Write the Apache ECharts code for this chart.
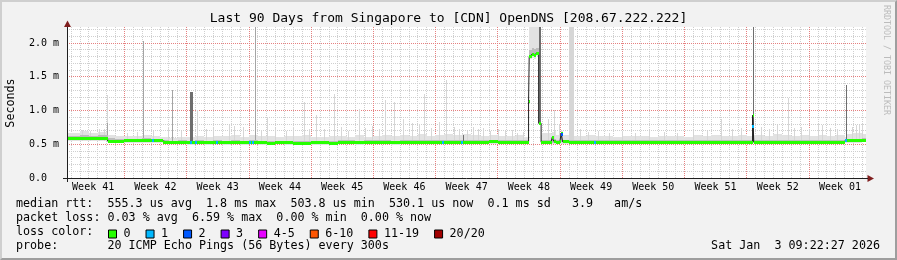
<!DOCTYPE html>
<html><head><meta charset="utf-8">
<script src="https://cdn.jsdelivr.net/npm/echarts@6/dist/echarts.min.js"></script>
<style>
html,body{margin:0;padding:0;background:#f2f2f2;}
#c{position:absolute;left:0;top:0;width:897px;height:260px;}
#f{position:absolute;left:0;top:0;width:897px;height:260px;box-sizing:border-box;border-top:2px solid #cfcfcf;border-left:2px solid #cfcfcf;border-bottom:2px solid #9e9e9e;border-right:2px solid #9e9e9e;pointer-events:none;}
</style></head><body>
<div id="c"></div><div id="f"></div>
<script>
// ---------- data (x in days since Monday of Week 41, y in ms) ----------
const weekLabels = ['Week 41','Week 42','Week 43','Week 44','Week 45','Week 46','Week 47','Week 48','Week 49','Week 50','Week 51','Week 52','Week 01'];
const yLabels = ['0.0  ','0.5 m','1.0 m','1.5 m','2.0 m'];

const medDays = [0.56,1,2,3,4,5.13,6,7,8,9,10,11,11.32,
 12,13,14,15,16,17,18,19,20,21,22,23,24,25,26,27,28,29,30,31,32,33,34,35,36,37,38,39,40,41,42,43,44,45,46,47,48,49,50,51,52,
 52.47,52.54,52.8,53.1,53.3,53.6,53.88,54,55,55.12,55.3,55.5,56,56.12,56.3,
 57,58,59,60,61,62,63,64,65,66,67,68,69,70,71,72,73,74,75,76,77,77.66,77.73,77.8,
 78,79,80,81,82,83,84,85,86,87,88,88.1,88.3,89,90,90.42];
const medVals = [0.582,0.580,0.584,0.579,0.581,0.546,0.540,0.552,0.553,0.550,0.554,0.551,0.524,
 0.522,0.525,0.520,0.523,0.521,0.524,0.520,0.522,0.519,0.523,0.521,0.518,0.522,0.520,0.517,0.514,0.519,0.521,0.516,0.522,0.524,0.521,0.523,0.525,0.522,0.519,0.524,0.526,0.523,0.525,0.527,0.524,0.529,0.531,0.533,0.532,0.534,0.531,0.533,0.532,0.530,
 1.13,1.80,1.83,1.82,1.85,0.81,0.530,0.531,0.533,0.600,0.545,0.532,0.534,0.660,0.536,
 0.531,0.532,0.530,0.533,0.531,0.532,0.530,0.529,0.531,0.530,0.532,0.531,0.530,0.529,0.531,0.532,0.530,0.531,0.529,0.530,0.531,0.930,0.760,0.530,
 0.531,0.530,0.529,0.531,0.528,0.530,0.529,0.531,0.528,0.527,0.529,0.560,0.551,0.549,0.552,0.550];
const smokeLo = [0.548,0.547,0.550,0.546,0.549,0.515,0.512,0.520,0.522,0.519,0.521,0.520,0.497,
 0.497,0.500,0.495,0.498,0.496,0.499,0.495,0.497,0.494,0.498,0.496,0.493,0.497,0.495,0.492,0.490,0.494,0.496,0.491,0.497,0.499,0.496,0.498,0.500,0.497,0.494,0.499,0.501,0.498,0.500,0.502,0.499,0.504,0.506,0.508,0.507,0.509,0.506,0.508,0.507,0.505,
 1.10,1.76,1.78,1.77,1.80,0.79,0.505,0.506,0.508,0.505,0.505,0.507,0.509,0.510,0.509,
 0.506,0.507,0.505,0.508,0.506,0.507,0.505,0.504,0.506,0.505,0.507,0.506,0.505,0.504,0.506,0.507,0.505,0.506,0.504,0.505,0.506,0.520,0.520,0.505,
 0.506,0.505,0.504,0.506,0.503,0.505,0.504,0.506,0.503,0.502,0.504,0.520,0.525,0.524,0.526,0.525];
const smokeHi = [0.672,0.665,0.690,0.668,0.680,0.640,0.615,0.625,0.618,0.630,0.622,0.612,0.600,
 0.598,0.612,0.605,0.620,0.603,0.615,0.625,0.632,0.610,0.640,0.615,0.628,0.608,0.618,0.622,0.635,0.612,0.604,0.626,0.618,0.607,0.630,0.612,0.620,0.642,0.625,0.634,0.628,0.645,0.619,0.637,0.651,0.630,0.648,0.640,0.622,0.633,0.628,0.619,0.631,0.612,
 2.237,2.237,2.237,2.237,2.237,2.237,0.640,0.660,0.655,0.680,0.700,0.640,0.645,0.690,0.640,
 0.628,0.615,0.632,0.620,0.626,0.611,0.624,0.617,0.628,0.613,0.622,0.618,0.625,0.614,0.630,0.621,0.635,0.627,0.619,0.632,0.626,0.950,0.800,0.640,
 0.640,0.628,0.645,0.633,0.622,0.638,0.626,0.641,0.624,0.630,0.635,0.600,0.650,0.660,0.648,0.640];
const smokeMidLo = [0.563,0.562,0.565,0.561,0.563,0.530,0.527,0.535,0.536,0.533,0.537,0.534,0.509,
 0.508,0.511,0.507,0.510,0.508,0.511,0.507,0.509,0.506,0.510,0.508,0.505,0.509,0.507,0.504,0.502,0.506,0.508,0.503,0.509,0.511,0.508,0.510,0.512,0.509,0.506,0.511,0.513,0.510,0.512,0.514,0.511,0.516,0.518,0.520,0.519,0.521,0.518,0.520,0.519,0.517,
 1.12,1.78,1.80,1.79,1.82,0.80,0.517,0.518,0.520,0.520,0.520,0.519,0.521,0.530,0.521,
 0.518,0.519,0.517,0.520,0.518,0.519,0.517,0.516,0.518,0.517,0.519,0.518,0.517,0.516,0.518,0.519,0.517,0.518,0.516,0.517,0.518,0.530,0.530,0.517,
 0.518,0.517,0.516,0.518,0.515,0.517,0.516,0.518,0.515,0.514,0.516,0.530,0.537,0.536,0.538,0.537];
const smokeMidHi = [0.628,0.625,0.632,0.622,0.630,0.590,0.575,0.585,0.582,0.588,0.584,0.580,0.556,
 0.553,0.557,0.551,0.556,0.552,0.558,0.553,0.556,0.551,0.560,0.552,0.550,0.554,0.552,0.549,0.548,0.551,0.553,0.549,0.556,0.557,0.554,0.556,0.558,0.557,0.552,0.558,0.560,0.557,0.558,0.561,0.559,0.563,0.570,0.568,0.566,0.569,0.566,0.567,0.566,0.564,
 1.15,1.90,1.92,1.91,1.93,0.83,0.566,0.568,0.570,0.610,0.580,0.566,0.569,0.670,0.567,
 0.566,0.566,0.564,0.567,0.565,0.566,0.564,0.563,0.565,0.564,0.566,0.565,0.564,0.563,0.565,0.566,0.564,0.565,0.563,0.565,0.566,0.940,0.780,0.566,
 0.566,0.564,0.563,0.565,0.562,0.564,0.563,0.566,0.562,0.561,0.563,0.580,0.585,0.583,0.586,0.584];

const loss1Days = [10.2,14.5,15.1,17.4,21.1,21.5,42.9,45.0,59.9,77.76,88.15];
const loss1Vals = [0.554,0.520,0.523,0.524,0.523,0.523,0.527,0.531,0.530,0.760,0.560];
const loss2Days = [56.2];
const loss2Vals = [0.650];

const lightSpikeDays = [2.2,3.1,4.1,4.7,5.05,7.3,8.4,10.2,11.9,13.4,15.14,16.2,17.0,18.8,19.3,20.3,22.4,23.1,24.0,25.2,26.0,27.24,27.8,28.6,29.5,30.61,31.4,32.2,33.36,34.1,34.9,35.6,36.35,37.36,38.3,39.4,40.2,40.73,41.5,42.4,43.17,44.1,44.6,45.5,46.2,46.8,47.3,48.1,49.0,49.8,50.6,51.2,51.8,54.64,55.3,55.9,57.05,57.16,57.27,57.38,57.49,58.2,59.1,60.3,61.5,63.0,64.4,66.0,67.7,69.2,71.0,72.5,74.1,75.3,76.4,78.6,79.5,80.4,81.6,82.3,83.1,84.0,85.0,85.5,86.4,87.2,88.8,89.28,89.6,90.0];
const lightSpikeTops = [0.71,0.70,0.72,0.73,1.23,0.66,0.68,0.70,0.76,0.70,1.00,0.72,0.74,0.79,0.77,0.76,0.71,0.91,0.74,0.70,0.76,1.13,0.73,0.93,0.72,1.24,0.76,0.70,1.02,0.74,0.77,0.72,1.16,1.12,0.88,0.82,0.80,1.24,0.74,0.83,1.45,0.75,0.72,0.70,0.75,0.72,0.74,0.70,0.72,0.69,0.71,0.66,0.68,0.88,1.00,0.78,2.237,2.237,2.237,2.237,2.237,0.72,0.68,0.70,0.66,0.69,0.67,0.70,0.68,0.66,0.69,0.70,0.88,0.72,0.74,0.75,0.72,0.78,1.18,0.74,0.76,0.72,0.80,0.78,0.74,0.73,0.76,0.79,0.78,0.80];
const midSpikeDays = [5.05,9.07,12.36,21.73];
const midSpikeTops = [0.82,2.03,1.31,2.237];
const darkSpikeDays = [14.42,14.53,14.64,45.05,53.66,53.77,77.71,88.15];
const darkSpikeLows = [0.53,0.53,0.53,0.53,0.81,0.81,0.53,0.53];
const darkSpikeTops = [1.28,1.28,1.28,0.64,2.237,2.237,2.237,1.38];

// ---------- layout ----------
const MONO = 'DejaVu Sans Mono';
const X_MIN = 0.557, X_MAX = 90.42, Y_MAX = 2.237;
const PL = 67, PT = 27, PW = 799, PH = 151;
const PX_DAY = PW / (X_MAX - X_MIN);
const DAY0 = PL - X_MIN * PX_DAY;
const SPIKE_BASE = 0.55;
const ZL = 1; // layer for everything drawn above the minor grid

function pairs(a, b){ return a.map((d,i)=>[d, b[i]]); }
function bands(lo, hi){ const r=[]; for(let i=0;i<medDays.length-1;i++) r.push([medDays[i], medDays[i+1], lo[i], hi[i]]); return r; }
function segs(){ const r=[]; for(let i=0;i<medDays.length-1;i++) r.push([medDays[i], medDays[i+1], medVals[i]]); return r; }

function bandItem(params, api){
  const a = api.coord([api.value(0), api.value(3)]);
  const b = api.coord([api.value(1), api.value(2)]);
  const x0 = Math.round(a[0]), x1 = Math.round(b[0]);
  const y0 = Math.round(a[1]), y1 = Math.round(b[1]);
  return {type:'rect', shape:{x:x0, y:y0, width:Math.max(0,x1-x0), height:Math.max(1,y1-y0)}, style:{fill: api.visual('color')}};
}
function spikeItem(params, api){
  const lo = api.value(1), hi = api.value(2);
  const a = api.coord([api.value(0), hi]);
  const b = api.coord([api.value(0), lo]);
  const x = Math.round(a[0]);
  const y0 = Math.round(a[1]), y1 = Math.round(b[1]);
  return {type:'rect', shape:{x:x, y:y0, width:1, height:Math.max(1,y1-y0)}, style:{fill: api.visual('color')}};
}
function segItem(params, api){
  const a = api.coord([api.value(0), api.value(2)]);
  const b = api.coord([api.value(1), api.value(2)]);
  const x0 = Math.round(a[0]), x1 = Math.round(b[0]);
  return {type:'rect', shape:{x:x0, y:Math.round(a[1]-1.5), width:Math.max(1,x1-x0), height:3}, style:{fill: api.visual('color')}};
}
function markItem(params, api){
  const a = api.coord([api.value(0), api.value(1)]);
  return {type:'rect', shape:{x:Math.round(a[0])-1, y:Math.round(a[1]-1.5), width:2, height:3}, style:{fill: api.visual('color')}};
}

const lossNames = ['0','1','2','3','4-5','6-10','11-19','20/20'];
const lossColors = ['#26ff00','#00b8ff','#0059ff','#7e00ff','#e600ff','#ff5500','#ff0000','#a10000'];

const minorGrid = {show:true, lineStyle:{color:'#cfcfcf', width:1, type:[1,1]}, showMinLine:false, showMaxLine:false};
const majorGrid = {show:true, lineStyle:{color:'#e68080', width:1, type:[1,1]}, showMinLine:false, showMaxLine:false};

const chart = echarts.init(document.getElementById('c'), null, {renderer:'canvas'});
const series = [
  {type:'custom', name:'smokeLight', zlevel:ZL, xAxisIndex:0, yAxisIndex:0, clip:true, renderItem:bandItem, itemStyle:{color:'#e2e2e2'}, encode:{x:[0,1], y:[2,3]}, data:bands(smokeLo, smokeHi), z:2},
  {type:'custom', name:'spikeLight', zlevel:ZL, xAxisIndex:0, yAxisIndex:0, clip:true, renderItem:spikeItem, itemStyle:{color:'#d6d6d6'}, encode:{x:0, y:[1,2]}, data:lightSpikeDays.map((d,i)=>[d, SPIKE_BASE, lightSpikeTops[i]]), z:2},
  {type:'custom', name:'spikeMid', zlevel:ZL, xAxisIndex:0, yAxisIndex:0, clip:true, renderItem:spikeItem, itemStyle:{color:'#a4a4a4'}, encode:{x:0, y:[1,2]}, data:midSpikeDays.map((d,i)=>[d, SPIKE_BASE, midSpikeTops[i]]), z:2},
  {type:'custom', name:'smokeMid', zlevel:ZL, xAxisIndex:0, yAxisIndex:0, clip:true, renderItem:bandItem, itemStyle:{color:'#bcbcbc'}, encode:{x:[0,1], y:[2,3]}, data:bands(smokeMidLo, smokeMidHi), z:2},
  {type:'custom', name:'spikeDark', zlevel:ZL, xAxisIndex:0, yAxisIndex:0, clip:true, renderItem:spikeItem, itemStyle:{color:'#6e6e6e'}, encode:{x:0, y:[1,2]}, data:darkSpikeDays.map((d,i)=>[d, darkSpikeLows[i], darkSpikeTops[i]]), z:2},
  {type:'line', name:'median', zlevel:ZL, xAxisIndex:0, yAxisIndex:0, step:'end', showSymbol:false, symbol:'none', lineStyle:{color:'#202020', width:1}, data:pairs(medDays, medVals), z:3},
  {type:'custom', name:'0', zlevel:ZL, xAxisIndex:0, yAxisIndex:0, clip:true, renderItem:segItem, itemStyle:{color:lossColors[0]}, encode:{x:[0,1], y:2}, data:segs(), z:4},
  {type:'custom', name:'1', zlevel:ZL, xAxisIndex:0, yAxisIndex:0, clip:true, renderItem:markItem, itemStyle:{color:lossColors[1]}, encode:{x:0, y:1}, data:pairs(loss1Days, loss1Vals), z:5},
  {type:'custom', name:'2', zlevel:ZL, xAxisIndex:0, yAxisIndex:0, clip:true, renderItem:markItem, itemStyle:{color:lossColors[2]}, encode:{x:0, y:1}, data:pairs(loss2Days, loss2Vals), z:5}
];
for (let k=3;k<lossNames.length;k++){
  series.push({type:'custom', name:lossNames[k], zlevel:ZL, xAxisIndex:0, yAxisIndex:0, renderItem:markItem, itemStyle:{color:lossColors[k]}, encode:{x:0,y:1}, data:[], z:5});
}

const row1 = 'median rtt:  555.3 us avg  1.8 ms max  503.8 us min  530.1 us now  0.1 ms sd   3.9   am/s';
const row2 = 'packet loss: 0.03 % avg  6.59 % max  0.00 % min  0.00 % now';
const row4 = 'probe:       20 ICMP Echo Pings (56 Bytes) every 300s';
const stamp = 'Sat Jan  3 09:22:27 2026';
function txt(x, y, s, extra){ return Object.assign({type:'text', x:x, y:y, style:{text:s, fontFamily:MONO, fontSize:11.7, fill:'#000', verticalAlign:'middle', align:'left'}, z:100}, extra||{}); }

const option = {
  animation:false,
  backgroundColor:'transparent',
  title:{text:'Last 90 Days from Singapore to [CDN] OpenDNS [208.67.222.222]', left:'center', top:12, padding:0,
    textStyle:{fontFamily:MONO, fontSize:13, fontWeight:'normal', color:'#000'}},
  legend:{data:lossNames, icon:'rect', itemWidth:8, itemHeight:8, itemGap:15, left:108, top:228, padding:0, selectedMode:false,
    itemStyle:{borderColor:'#000', borderWidth:1},
    textStyle:{fontFamily:MONO, fontSize:11.7, color:'#000', padding:[0,0,0,2]}},
  grid:[
    {left:PL, top:PT, width:PW, height:PH, show:true, backgroundColor:'#ffffff', borderWidth:0, z:-1, containLabel:false, outerBoundsMode:'none'},
    {left:DAY0, top:PT, width:91*PX_DAY, height:PH, containLabel:false, outerBoundsMode:'none'},
    {left:DAY0-3.5*PX_DAY, top:PT, width:95*PX_DAY, height:PH, containLabel:false, outerBoundsMode:'none'}
  ],
  xAxis:[
    {type:'value', gridIndex:0, min:X_MIN, max:X_MAX, zlevel:ZL, z:8, axisLine:{show:true, onZero:false, lineStyle:{color:'#1f1f1f', width:1}}, axisTick:{show:false}, axisLabel:{show:false}, splitLine:{show:false}},
    {type:'value', gridIndex:1, min:0, max:91, interval:1, z:0, axisLine:{show:false}, axisTick:{show:false}, axisLabel:{show:false}, splitLine:minorGrid},
    {type:'value', gridIndex:1, min:0, max:91, interval:7, zlevel:ZL, z:0, axisLine:{show:false}, axisTick:{show:false}, axisLabel:{show:false}, splitLine:majorGrid},
    {type:'value', gridIndex:2, min:0, max:95, interval:7, z:1, axisLine:{show:false}, axisTick:{show:false}, splitLine:{show:false},
      axisLabel:{show:true, margin:4, showMinLabel:false, showMaxLabel:false, fontFamily:MONO, fontSize:10, color:'#000',
        formatter:(v)=>weekLabels[Math.round(v/7)-1] || ''}}
  ],
  yAxis:[
    {type:'value', gridIndex:0, min:0, max:Y_MAX, interval:0.5, zlevel:ZL, z:0, position:'left',
      axisLine:{show:false}, axisTick:{show:false},
      axisLabel:{show:true, margin:8, showMaxLabel:false, fontFamily:MONO, fontSize:10, color:'#000', formatter:(v)=>yLabels[Math.round(v/0.5)] || ''},
      splitLine:majorGrid},
    {type:'value', gridIndex:0, min:0, max:Y_MAX, interval:0.1, z:0, position:'left',
      axisLine:{show:true, onZero:false, lineStyle:{color:'#1f1f1f', width:1}}, axisTick:{show:false}, axisLabel:{show:false}, splitLine:minorGrid, zlevel:0},
    {type:'value', gridIndex:1, min:0, max:1, show:false},
    {type:'value', gridIndex:2, min:0, max:1, show:false}
  ],
  series: series,
  graphic:[
    {type:'polygon', shape:{points:[[67.5,20.5],[64,27],[71,27]]}, style:{fill:'#801f1f'}, z:100},
    {type:'polygon', shape:{points:[[874,178.5],[867.5,175],[867.5,182]]}, style:{fill:'#801f1f'}, z:100},
    {type:'line', shape:{x1:63, y1:178.5, x2:67, y2:178.5}, style:{stroke:'#1f1f1f', lineWidth:1}, z:100},
    {type:'line', shape:{x1:67.5, y1:178, x2:67.5, y2:182}, style:{stroke:'#1f1f1f', lineWidth:1}, z:100},
    {type:'line', shape:{x1:866, y1:178.5, x2:868, y2:178.5}, style:{stroke:'#1f1f1f', lineWidth:1}, z:100},
    {type:'line', shape:{x1:67.5, y1:27, x2:67.5, y2:178}, style:{stroke:'#1f1f1f', lineWidth:1}, zlevel:ZL, z:100},
    {type:'text', x:11, y:103, rotation:Math.PI/2, style:{text:'Seconds', fontFamily:MONO, fontSize:11.7, fill:'#000', align:'center', verticalAlign:'middle'}, z:100},
    {type:'text', x:886, y:5, rotation:-Math.PI/2, style:{text:'RRDTOOL / TOBI OETIKER', fontFamily:MONO, fontSize:8.3, fill:'#bcbcbc', align:'left', verticalAlign:'middle'}, z:100},
    txt(16, 204, row1),
    txt(16, 218.3, row2),
    txt(16, 232.3, 'loss color:'),
    txt(16, 246.3, row4),
    {type:'text', x:880, y:246.3, style:{text:stamp, fontFamily:MONO, fontSize:11.7, fill:'#000', verticalAlign:'middle', align:'right'}, z:100}
  ]
};
chart.setOption(option);
</script></body></html>
